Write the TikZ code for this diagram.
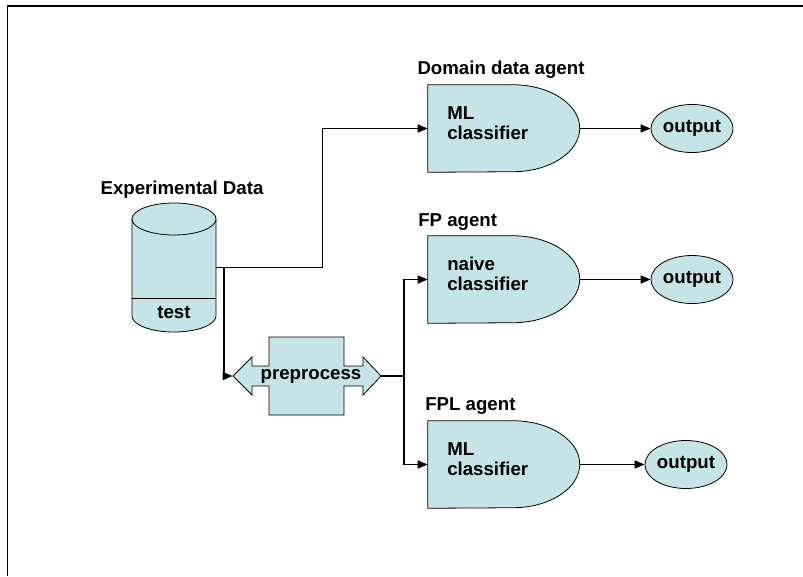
\documentclass[tikz,border=0pt]{standalone}
\usepackage{fontspec}
\setmainfont{Liberation Sans}
\usetikzlibrary{arrows.meta,shapes.geometric}
\definecolor{agent}{HTML}{C4E4E8}
\tikzset{shapefill/.style={draw=black,fill=agent,line width=0.6pt}}
\tikzset{txt/.style={font=\fontsize{14}{15}\selectfont\bfseries,inner sep=0pt,align=left}}
\tikzset{box/.style={draw=none,rectangle,inner sep=0pt}}
\tikzset{outbox/.style={shapefill,ellipse,inner sep=0pt,minimum width=58.5pt,minimum height=36pt,font=\fontsize{14}{15}\selectfont\bfseries}}
\tikzset{conn/.style={draw=black,line width=1.1pt,-{Triangle[length=7.5pt,width=6pt]}}}

\begin{document}
\begin{tikzpicture}[x=0.75pt,y=-0.75pt]
    \useasboundingbox (0,0) rectangle (803,576);
    \draw[line width=1.5pt] (7,5.5) -- (803,5.5);
    \draw[line width=0.6pt] (7,5) -- (7,576);

    \node[box,minimum width=63pt,minimum height=96.75pt] (data) at (174,267.5) {};
    \draw[shapefill] (132,219) -- (132,316) arc[start angle=180,end angle=0,x radius=42,y radius=16] -- (216,219) -- cycle;
    \draw[shapefill] (174,219) ellipse[x radius=42,y radius=16];
    \draw[line width=0.6pt] (132,298) -- (216,298);
    \node[txt] (explbl) at (182,190) {Experimental Data};
    \node[txt] (testlbl) at (174,312) {test};

    \node[box,minimum width=111pt,minimum height=58.5pt] (prep) at (307,376) {};
    \draw[shapefill] (233,376) -- (252,357) -- (252,366) -- (269,366) -- (269,337) -- (344,337) -- (344,366)
      -- (363,366) -- (363,357) -- (381,376) -- (363,395) -- (363,386) -- (344,386) -- (344,415)
      -- (269,415) -- (269,386) -- (252,386) -- (252,395) -- cycle;
    \node[txt] (preplbl) at (311,376) {preprocess};

    \node[box,minimum width=114pt,minimum height=65.25pt] (ml1) at (504,128.5) {};
    \draw[shapefill] (ml1.north west) -- ++(85,0) arc[start angle=-90,end angle=90,x radius=67,y radius=43.5] -- (ml1.south west) -- cycle;
    \node[txt,anchor=west] (ml1txt) at (447,123) {ML\\classifier};
    \node[txt] (domlbl) at (501,70) {Domain data agent};

    \node[box,minimum width=114pt,minimum height=65.25pt] (fp) at (504,279.5) {};
    \draw[shapefill] (fp.north west) -- ++(85,0) arc[start angle=-90,end angle=90,x radius=67,y radius=43.5] -- (fp.south west) -- cycle;
    \node[txt,anchor=west] (fptxt) at (447,274) {naive\\classifier};
    \node[txt,anchor=west] (fplbl) at (418,222) {FP agent};

    \node[box,minimum width=114pt,minimum height=65.25pt] (fpl) at (504,464.5) {};
    \draw[shapefill] (fpl.north west) -- ++(85,0) arc[start angle=-90,end angle=90,x radius=67,y radius=43.5] -- (fpl.south west) -- cycle;
    \node[txt,anchor=west] (fpltxt) at (447,459) {ML\\classifier};
    \node[txt,anchor=west] (fpllbl) at (425,406) {FPL agent};

    \node[outbox] (out1) at (692,128.5) {output};
    \node[outbox] (out2) at (692,279.5) {output};
    \node[outbox] (out3) at (686,464.5) {output};

    \coordinate (split) at (224,267.5);
    \coordinate (fork) at (404,376);

    \draw[conn] (data.east) -- ++(106,0) |- (ml1.west);
    \draw[conn] (split) |- (prep.west);
    \draw[line width=1.1pt] (prep.east) -- (fork);
    \draw[conn] (fork) |- (fp.west);
    \draw[conn] (fork) |- (fpl.west);
    \draw[conn] (ml1.east) -- (out1);
    \draw[conn] (fp.east) -- (out2);
    \draw[conn] (fpl.east) -- (out3);
\end{tikzpicture}
\end{document}
